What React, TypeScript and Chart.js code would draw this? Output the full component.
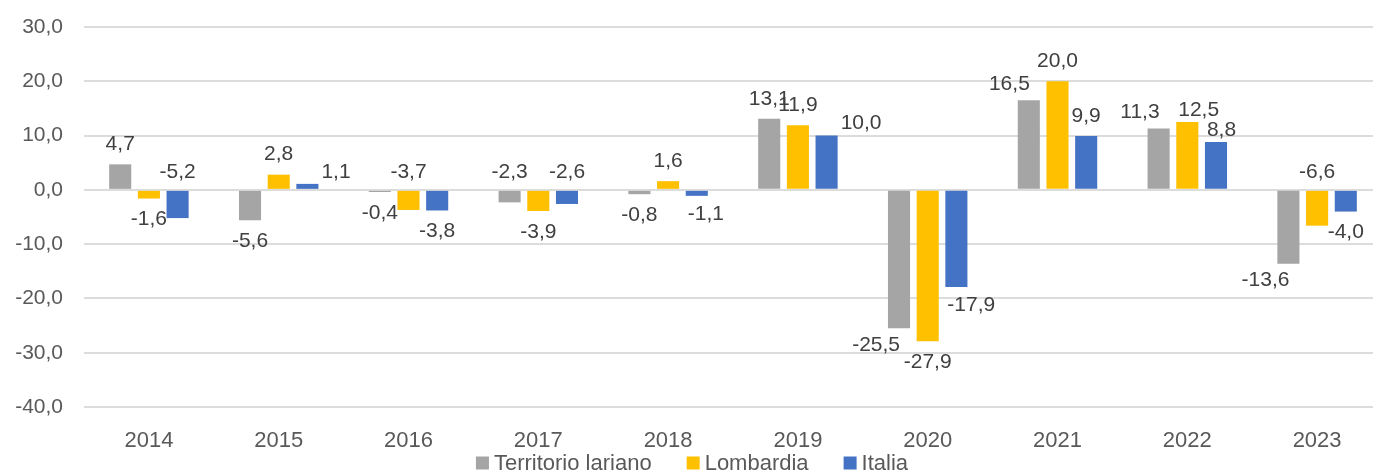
import React, { useEffect, useRef } from "react";
import { Chart, registerables } from "chart.js";

Chart.register(...registerables);

const categories = ["2014", "2015", "2016", "2017", "2018", "2019", "2020", "2021", "2022", "2023"];
const seriesNames = ["Territorio lariano", "Lombardia", "Italia"];
const territorioLariano = [4.7, -5.6, -0.4, -2.3, -0.8, 13.1, -25.5, 16.5, 11.3, -13.6];
const lombardia = [-1.6, 2.8, -3.7, -3.9, 1.6, 11.9, -27.9, 20.0, 12.5, -6.6];
const italia = [-5.2, 1.1, -3.8, -2.6, -1.1, 10.0, -17.9, 9.9, 8.8, -4.0];
const yMin = -40;
const yMax = 30;
const yStep = 10;

// where each value label sits:
// "end" = beyond the bar end, "endL" = beyond the end, shifted left, "endR" = beyond the end, shifted right,
// "base" = above the zero line, "right" = right of the bar end
const anchorsTerritorio = ["end", "end", "end", "base", "end", "end", "endL", "endL", "endL", "endL"];
const anchorsLombardia = ["end", "end", "base", "end", "end", "end", "end", "end", "endR", "base"];
const anchorsItalia = ["base", "right", "end", "base", "endR", "right", "endR", "end", "endR", "end"];

const COLORS = ["#A5A5A5", "#FFC000", "#4472C4"];
const FONT = '"Liberation Sans", Arial, sans-serif';
const TEXT = "#595959";
const LABEL = "#404040";

const fmt = (v: number) => v.toFixed(1).replace(".", ",");

const valueLabels = {
  id: "valueLabels",
  afterDatasetsDraw(chart: any) {
    const ctx = chart.ctx;
    const anchors = [anchorsTerritorio, anchorsLombardia, anchorsItalia];
    ctx.save();
    ctx.font = `21px ${FONT}`;
    ctx.fillStyle = LABEL;
    ctx.textBaseline = "middle";
    chart.data.datasets.forEach((ds: any, di: number) => {
      const meta = chart.getDatasetMeta(di);
      meta.data.forEach((el: any, i: number) => {
        const v = ds.data[i] as number;
        const t = fmt(v);
        const a = anchors[di][i];
        const p = el.getProps(["x", "y", "base", "width"], true);
        let x = p.x;
        let y = v >= 0 ? p.y - 20 : p.y + 21;
        ctx.textAlign = "center";
        if (a === "base") {
          y = p.base - 19;
        } else if (a === "right") {
          ctx.textAlign = "left";
          x = p.x + p.width / 2 + 3;
          y = p.y - 12;
        } else if (a === "endL") {
          ctx.textAlign = "right";
          x = p.x + 1;
          y = v >= 0 ? p.y - 16 : p.y + 17;
        } else if (a === "endR") {
          ctx.textAlign = "left";
          x = p.x - p.width / 2 + 2;
          y = v >= 0 ? p.y - 12 : p.y + 18;
        }
        ctx.fillText(t, x, y);
      });
    });
    ctx.restore();
  },
};

const customLegend = {
  id: "customLegend",
  afterDraw(chart: any) {
    const ctx = chart.ctx;
    ctx.save();
    ctx.font = `22px ${FONT}`;
    const box = 13;
    const gap = 5;
    const spacing = 35;
    const widths = seriesNames.map((n) => ctx.measureText(n).width);
    const total = widths.reduce((s, w) => s + box + gap + w, 0) + spacing * (seriesNames.length - 1);
    let x = chart.width / 2 - total / 2;
    const y = 463;
    ctx.textBaseline = "middle";
    ctx.textAlign = "left";
    seriesNames.forEach((n, i) => {
      ctx.fillStyle = COLORS[i];
      ctx.fillRect(x, y - box / 2, box, box);
      ctx.fillStyle = TEXT;
      ctx.fillText(n, x + box + gap, y + 1);
      x += box + gap + widths[i] + spacing;
    });
    ctx.restore();
  },
};

export default function App() {
  const ref = useRef<HTMLCanvasElement | null>(null);

  useEffect(() => {
    if (!ref.current) return;
    const chart = new Chart(ref.current, {
      type: "bar",
      data: {
        labels: categories,
        datasets: [territorioLariano, lombardia, italia].map((d, i) => ({
          label: seriesNames[i],
          data: d,
          backgroundColor: COLORS[i],
          borderWidth: 0,
          categoryPercentage: 0.663,
          barPercentage: 0.77,
        })),
      },
      options: {
        responsive: false,
        animation: false,
        devicePixelRatio: 1,
        layout: { padding: { top: 27, right: 2, bottom: 26, left: 0 } },
        plugins: {
          legend: { display: false },
          tooltip: { enabled: false },
        },
        scales: {
          x: {
            grid: { display: false, drawTicks: false },
            border: { display: false },
            ticks: {
              color: TEXT,
              font: { family: FONT, size: 22 },
              padding: 21,
              maxRotation: 0,
            },
            afterFit: (s: any) => {
              s.height = 40;
            },
          },
          y: {
            min: yMin,
            max: yMax,
            grid: { color: "#DCDCDC", lineWidth: 2, drawTicks: false },
            border: { display: false },
            ticks: {
              stepSize: yStep,
              color: TEXT,
              font: { family: FONT, size: 21 },
              padding: 21,
              callback: (v: any) => fmt(Number(v)),
            },
            afterFit: (s: any) => {
              s.width = 84;
              s.paddingTop = 0;
              s.paddingBottom = 0;
            },
          },
        },
      },
      plugins: [valueLabels, customLegend],
    });
    return () => chart.destroy();
  }, []);

  return (
    <div
      style={{
        position: "fixed",
        left: 0,
        top: 0,
        width: 1373,
        height: 473,
        overflow: "hidden",
        background: "#fff",
      }}
    >
      <canvas ref={ref} width={1384} height={473} style={{ display: "block" }} />
    </div>
  );
}
